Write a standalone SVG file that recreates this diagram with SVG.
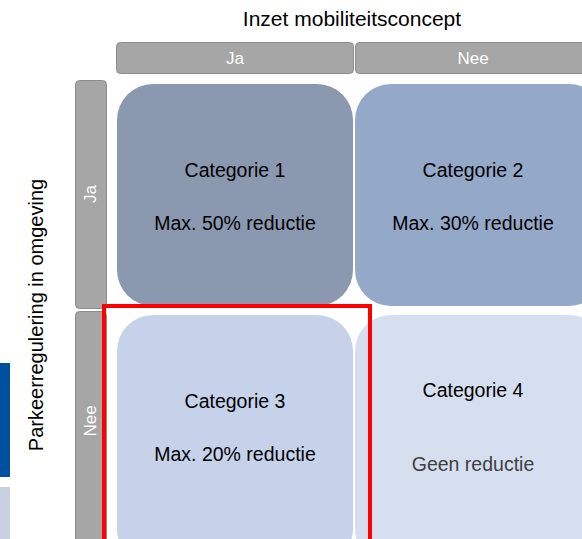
<svg xmlns="http://www.w3.org/2000/svg" width="582" height="539" viewBox="0 0 582 539">
<style>
text{font-family:"Liberation Sans",Arial,sans-serif}
.hdr{fill:#a6a6a6;stroke:#8c8c8c;stroke-width:1}
.hl{fill:#ffffff;font-size:17px;text-anchor:middle}
.ct{fill:#000;font-size:19.5px;text-anchor:middle}
.ax{fill:#000;font-size:20px;text-anchor:middle}
</style>
<rect width="582" height="539" fill="#ffffff"/>
<g id="legend">
<rect x="0" y="363" width="10" height="114" fill="#0050a0"/>
<rect x="0" y="487" width="10" height="60" fill="#c9d0e0"/>
</g>
<g id="axis-top"><text class="ax" x="352" y="26" style="font-size:21px">Inzet mobiliteitsconcept</text></g>
<g id="axis-left"><text class="ax" transform="translate(43,315) rotate(-90)">Parkeerregulering in omgeving</text></g>
<g id="hdr-ja"><rect class="hdr" x="116.5" y="42.5" width="237" height="31" rx="4"/><text class="hl" x="235" y="64">Ja</text></g>
<g id="hdr-nee"><rect class="hdr" x="355.5" y="42.5" width="240" height="31" rx="4"/><text class="hl" x="473" y="64">Nee</text></g>
<g id="row-ja"><rect class="hdr" x="75.5" y="80.5" width="31" height="228" rx="4"/><text class="hl" transform="translate(96,194) rotate(-90)">Ja</text></g>
<g id="row-nee"><rect class="hdr" x="75.5" y="311.5" width="31" height="240" rx="4"/><text class="hl" transform="translate(96,421) rotate(-90)">Nee</text></g>
<g id="cat1"><rect x="117" y="84" width="236" height="222" rx="36" fill="#8a98b0"/><text class="ct" x="235" y="177">Categorie 1</text><text class="ct" x="235" y="230">Max. 50% reductie</text></g>
<g id="cat2"><rect x="355" y="84" width="250" height="222" rx="36" fill="#94a8c8"/><text class="ct" x="473" y="177">Categorie 2</text><text class="ct" x="473" y="230">Max. 30% reductie</text></g>
<g id="cat3"><rect x="117" y="315" width="236" height="250" rx="36" fill="#c5d2ea"/><text class="ct" x="235" y="408">Categorie 3</text><text class="ct" x="235" y="461">Max. 20% reductie</text></g>
<g id="cat4"><rect x="355" y="315" width="250" height="250" rx="36" fill="#d6dff0"/><text class="ct" x="473" y="397">Categorie 4</text><text class="ct" x="473" y="471" style="fill:#404040">Geen reductie</text></g>
<g id="highlight"><rect x="104" y="306" width="266" height="250" fill="none" stroke="#ff0000" stroke-width="4"/></g>
<g id="connectors"/>
</svg>
